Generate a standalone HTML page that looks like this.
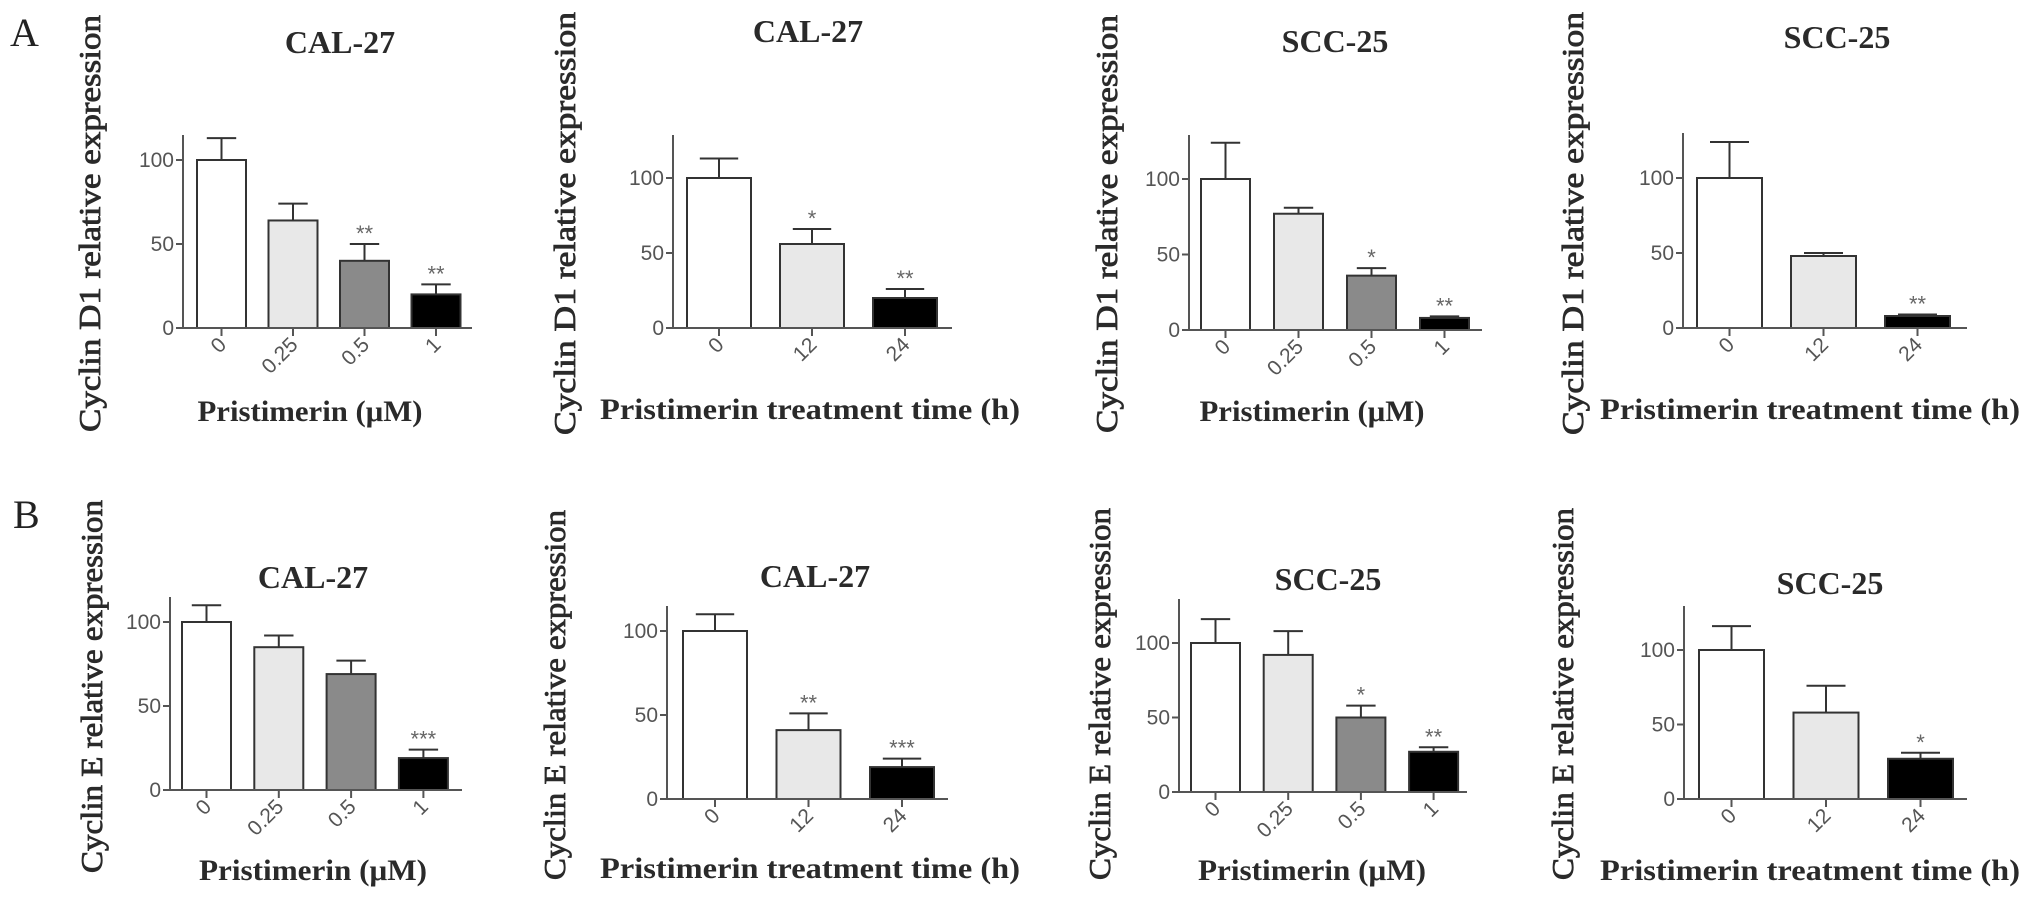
<!DOCTYPE html>
<html><head><meta charset="utf-8"><style>
html,body{margin:0;padding:0;background:#fff;}
svg{display:block;}
</style></head><body>
<svg id="fig" width="2031" height="899" viewBox="0 0 2031 899" xmlns="http://www.w3.org/2000/svg">
<text x="10" y="46" font-family="Liberation Serif, serif" font-size="40" fill="#222">A</text>
<text x="13" y="528" font-family="Liberation Serif, serif" font-size="40" fill="#222">B</text>
</svg>
<script>
const catsConc = ["0","0.25","0.5","1"];
const catsTime = ["0","12","24"];
const yTicks = [0,50,100];
const a1Means = [100,64,40,20]; const a1Errs = [13,10,10,6]; const a1Stars = ["","","**","**"];
const a2Means = [100,56,20];    const a2Errs = [13,10,6];     const a2Stars = ["","*","**"];
const a3Means = [100,77,36,8];  const a3Errs = [24,4,5,1];    const a3Stars = ["","","*","**"];
const a4Means = [100,48,8];     const a4Errs = [24,2,1];      const a4Stars = ["","","**"];
const b1Means = [100,85,69,19]; const b1Errs = [10,7,8,5];    const b1Stars = ["","","","***"];
const b2Means = [100,41,19];    const b2Errs = [10,10,5];     const b2Stars = ["","**","***"];
const b3Means = [100,92,50,27]; const b3Errs = [16,16,8,3];   const b3Stars = ["","","*","**"];
const b4Means = [100,58,27];    const b4Errs = [16,18,4];     const b4Stars = ["","","*"];

const fills4 = ["#ffffff","#e8e8e8","#8a8a8a","#000000"];
const fills3 = ["#ffffff","#e8e8e8","#000000"];
const NS = "http://www.w3.org/2000/svg";
const svg = document.getElementById("fig");
function mk(tag, attrs, parent){const e=document.createElementNS(NS,tag);for(const k in attrs)e.setAttribute(k,attrs[k]);(parent||svg).appendChild(e);return e;}

const panels = [
 {id:"a1",cats:catsConc,m:a1Means,e:a1Errs,s:a1Stars,ax:183,y0:328,y100:160,top:135,xend:472,b0:197,bw:49,step:71.5,title:"CAL-27",tx:340,ty:53,yl:"Cyclin D1 relative expression",ylx:100,yly0:15,yly1:432,xl:"Pristimerin (μM)",xlx:310,xly:421,xlw:225},
 {id:"a2",cats:catsTime,m:a2Means,e:a2Errs,s:a2Stars,ax:673,y0:328,y100:178,top:135,xend:952,b0:687,bw:64,step:93,title:"CAL-27",tx:808,ty:42,yl:"Cyclin D1 relative expression",ylx:575,yly0:12,yly1:435,xl:"Pristimerin treatment time (h)",xlx:810,xly:419,xlw:420},
 {id:"a3",cats:catsConc,m:a3Means,e:a3Errs,s:a3Stars,ax:1189,y0:330,y100:179,top:135,xend:1482,b0:1201,bw:49,step:73,title:"SCC-25",tx:1335,ty:52,yl:"Cyclin D1 relative expression",ylx:1117,yly0:15,yly1:433,xl:"Pristimerin (μM)",xlx:1312,xly:421,xlw:225},
 {id:"a4",cats:catsTime,m:a4Means,e:a4Errs,s:a4Stars,ax:1683,y0:328,y100:178,top:133,xend:1967,b0:1697,bw:65,step:94,title:"SCC-25",tx:1837,ty:48,yl:"Cyclin D1 relative expression",ylx:1583,yly0:12,yly1:435,xl:"Pristimerin treatment time (h)",xlx:1810,xly:419,xlw:420},
 {id:"b1",cats:catsConc,m:b1Means,e:b1Errs,s:b1Stars,ax:170,y0:790,y100:622,top:597,xend:462,b0:182,bw:49,step:72.3,title:"CAL-27",tx:313,ty:588,yl:"Cyclin  E relative expression",ylx:102,yly0:500,yly1:873,xl:"Pristimerin (μM)",xlx:313,xly:880,xlw:228},
 {id:"b2",cats:catsTime,m:b2Means,e:b2Errs,s:b2Stars,ax:667,y0:799,y100:631,top:606,xend:948,b0:683,bw:64,step:93.5,title:"CAL-27",tx:815,ty:587,yl:"Cyclin  E relative expression",ylx:565,yly0:510,yly1:880,xl:"Pristimerin treatment time (h)",xlx:810,xly:878,xlw:420},
 {id:"b3",cats:catsConc,m:b3Means,e:b3Errs,s:b3Stars,ax:1179,y0:792,y100:643,top:599,xend:1467,b0:1191,bw:49,step:72.7,title:"SCC-25",tx:1328,ty:590,yl:"Cyclin  E relative expression",ylx:1110,yly0:508,yly1:880,xl:"Pristimerin (μM)",xlx:1312,xly:880,xlw:228},
 {id:"b4",cats:catsTime,m:b4Means,e:b4Errs,s:b4Stars,ax:1684,y0:799,y100:650,top:606,xend:1967,b0:1699,bw:65,step:94.5,title:"SCC-25",tx:1830,ty:594,yl:"Cyclin  E relative expression",ylx:1573,yly0:508,yly1:880,xl:"Pristimerin treatment time (h)",xlx:1810,xly:880,xlw:420}
];

panels.forEach(p=>{
  const g = mk("g",{});
  
  
  const y = v => p.y0 - (p.y0-p.y100)*v/100;
  const fills = p.cats.length===4 ? fills4 : fills3;
  const t = mk("text",{x:p.tx,y:p.ty,"text-anchor":"middle","font-family":"Liberation Serif, serif","font-size":32,"font-weight":"bold",fill:"#2a2a2a"},g);
  t.textContent = p.title;
  
  
  const ym=(p.yly0+p.yly1)/2;
  const yl = mk("text",{x:0,y:0,transform:`translate(${p.ylx},${ym}) rotate(-90)`,"text-anchor":"middle","font-family":"Liberation Serif, serif","font-size":31,fill:"#2a2a2a",stroke:"#2a2a2a","stroke-width":0.8,textLength:p.yly1-p.yly0,lengthAdjust:"spacingAndGlyphs"},g);
  yl.textContent = p.yl;
  
  
  const xl = mk("text",{x:p.xlx,y:p.xly,"text-anchor":"middle","font-family":"Liberation Serif, serif","font-size":30,"font-weight":"bold",fill:"#2a2a2a",textLength:p.xlw,lengthAdjust:"spacingAndGlyphs"},g);
  xl.textContent = p.xl;
  
  
  const yax = mk("line",{x1:p.ax,y1:p.top,x2:p.ax,y2:p.y0,stroke:"#555","stroke-width":2},g);
  
  
  yTicks.forEach(v=>{
    const yy=y(v);
    const tk = mk("line",{x1:p.ax-7,y1:yy,x2:p.ax,y2:yy,stroke:"#555","stroke-width":2},g);
    
    
    const tl = mk("text",{x:p.ax-9,y:yy+7,"text-anchor":"end","font-family":"Liberation Sans, sans-serif","font-size":21,fill:"#555"},g);
    tl.textContent = v;
    
    
  });
  p.cats.forEach((c,i)=>{
    const x0 = p.b0 + i*p.step, cx = x0 + p.bw/2;
    const top = y(p.m[i]), et = y(p.m[i]+p.e[i]);
    const el = mk("line",{x1:cx,y1:top,x2:cx,y2:et,stroke:"#333","stroke-width":2},g);
    
    
    const cap = mk("line",{x1:cx-p.bw*0.3,y1:et,x2:cx+p.bw*0.3,y2:et,stroke:"#333","stroke-width":2},g);
    
    
    const r = mk("rect",{x:x0,y:top,width:p.bw,height:p.y0-top,fill:fills[i],stroke:"#333","stroke-width":2},g);
    
    
    const tk = mk("line",{x1:cx,y1:p.y0,x2:cx,y2:p.y0+8,stroke:"#555","stroke-width":2},g);
    
    
    const tl = mk("text",{x:0,y:0,transform:`translate(${cx+6},${p.y0+18}) rotate(-45)`,"text-anchor":"end","font-family":"Liberation Sans, sans-serif","font-size":21,fill:"#555"},g);
    tl.textContent = c;
    
    
    if(p.s[i]){
      const st = mk("text",{x:cx,y:et-3,"text-anchor":"middle","font-family":"Liberation Sans, sans-serif","font-size":22,fill:"#666"},g);
      st.textContent = p.s[i];
      
      
    }
  });
  const xax = mk("line",{x1:p.ax-6,y1:p.y0,x2:p.xend,y2:p.y0,stroke:"#555","stroke-width":2},g);
  
  
});
</script>
</body></html>
